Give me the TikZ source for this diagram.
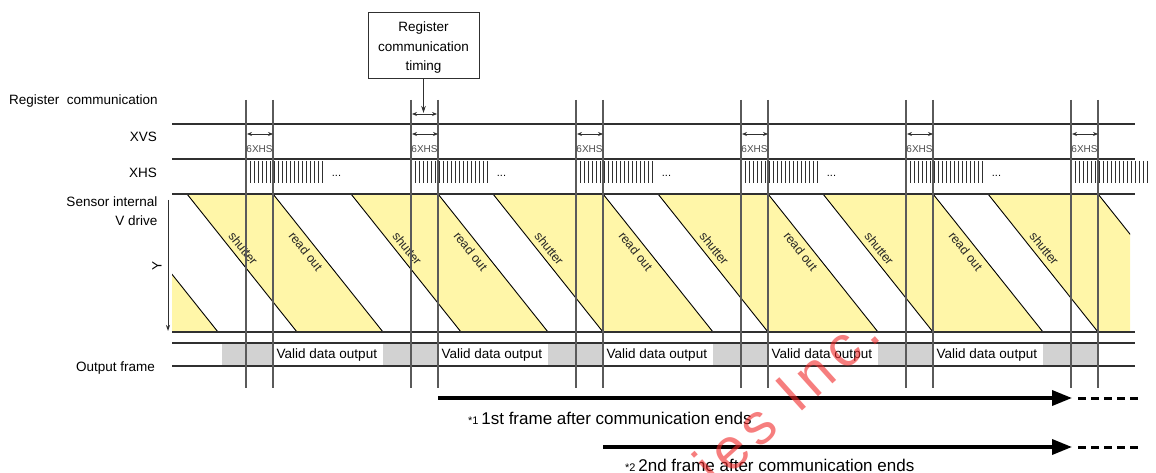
\documentclass[tikz,border=0pt]{standalone}
\usepackage{fontspec}
\setmainfont{Liberation Sans}
\usetikzlibrary{arrows.meta}
\definecolor{vy}{HTML}{FFF6A8}
\definecolor{og}{HTML}{D2D2D2}
\definecolor{ln}{HTML}{303030}
\definecolor{vl}{HTML}{5A5A5A}
\definecolor{wm}{HTML}{F02828}
\begin{document}
\begin{tikzpicture}[x=1pt,y=-1pt,
  lab/.style={font=\fontsize{13.5}{19}\selectfont, inner sep=0pt},
  hline/.style={draw=ln, line width=1.1pt},
  vline/.style={draw=vl, line width=1.2pt},
  diag/.style={draw=black, line width=0.9pt},
  tickline/.style={draw=ln, line width=0.7pt},
  diaglab/.style={font=\fontsize{12.5}{14}\selectfont, sloped, inner sep=5pt, text=black!85},
  small/.style={font=\fontsize{10}{12}\selectfont, text=black!70, inner sep=0pt},
  dimarr/.style={{Stealth[length=5pt,width=4pt]}-{Stealth[length=5pt,width=4pt]}, draw=ln, line width=0.8pt},
  bigarrow/.style={line width=3.5pt, -{Triangle[length=20pt,width=15pt]}},
  bigdash/.style={line width=3pt, dash pattern=on 8pt off 5pt},
  grayfill/.style={fill=og, draw=none},
]
\useasboundingbox (0,0) rectangle (1156,473);

% yellow bands
\begin{scope}
\clip (172,194) rectangle (1130,332);
\foreach \s/\r in {22/108,187/273,351/438,493/603,658/768,823/933,988/1098}{
  \fill[vy] (\s,194) -- (\r,194) -- (\r+110,332) -- (\s+110,332) -- cycle;
}
\foreach \r in {108,1098}{
  \draw[diag] (\r,194) -- (\r+110,332);
}
\foreach \r in {273,438,603,768,933}{
  \draw[diag] (\r,194) -- node[diaglab, pos=0.37, below] {read out} (\r+110,332);
}
\foreach \s in {187,351,493,658,823,988}{
  \draw[diag] (\s,194) -- node[diaglab, pos=0.44, above] {shutter} (\s+110,332);
}
\end{scope}

% output frame
\foreach \a/\b in {222/273,383/438,548/603,713/768,878/933,1043/1098}{
  \fill[grayfill] (\a,343) rectangle (\b,366);
}
\foreach \x [count=\i] in {273,438,603,768,933}{
  \node[lab, anchor=west] (valid\i) at (\x+3.5,355) {Valid data output};
}

% horizontal lines
\foreach \y in {124,159,194,332,343,366}{
  \draw[hline] (172,\y) -- (1135,\y);
}

% XHS ticks
\foreach \g [count=\i] in {246,411,576,741,906,1071}{
  \foreach \k in {0,...,19}{
    \draw[tickline] (\g+4*\k,161) -- (\g+4*\k,183);
  }
  \node[font=\fontsize{11}{12}\selectfont, inner sep=0pt] (dots\i) at (\g+90.5,175.5) {...};
}

% vertical lines, 6XHS
\foreach \x [count=\i] in {246,411,576,741,906,1071}{
  \draw[vline] (\x,100) -- (\x,388);
  \draw[vline] (\x+27,100) -- (\x+27,388);
  \coordinate (xa\i) at (\x+1,134);
  \coordinate (xb\i) at (\x+27,134);
  \draw[dimarr] (xa\i) -- (xb\i);
  \node[small] (six\i) at (\x+13.5,149.5) {6XHS};
}

% register communication timing
\node[draw=ln, line width=0.9pt, minimum width=111pt, minimum height=66pt, inner sep=0pt] (box) at (423.5,45) {};
\node[align=center, font=\fontsize{13.5}{19.5}\selectfont, inner sep=0pt] (boxtext) at (423.5,48) {Register\\communication\\timing};
\coordinate (ra) at (412,114);
\coordinate (rb) at (437,114);
\draw[dimarr] (ra) -- (rb);
\coordinate (rt) at (423.5,113);
\draw[draw=ln, line width=0.8pt, -{Stealth[length=7pt,width=4.5pt]}] (box.south) -- (rt);

% left labels
\node[lab, anchor=west] (lreg) at (9,101) {Register\ \ communication};
\node[lab, anchor=east] (lxvs) at (157,137) {XVS};
\node[lab, anchor=east] (lxhs) at (157,173) {XHS};
\node[lab, anchor=north east, align=right] (lsen) at (157.5,197) {Sensor internal\\V drive};
\node[lab, anchor=east] (lout) at (155,368) {Output frame};
\coordinate (ya) at (168,200);
\coordinate (yb) at (168,331);
\draw[draw=ln, line width=0.8pt, -{Stealth[length=6pt,width=4pt]}] (ya) -- (yb);
\node[lab, rotate=90] (ylab) at (157,266) {Y};

% frame arrows
\coordinate (a1s) at (438,398);
\coordinate (a1e) at (1072,398);
\coordinate (d1s) at (1078,398);
\coordinate (d1e) at (1142,398);
\draw[bigarrow] (a1s) -- (a1e);
\draw[bigdash] (d1s) -- (d1e);
\coordinate (a2s) at (603,447);
\coordinate (a2e) at (1072,447);
\coordinate (d2s) at (1078,447);
\coordinate (d2e) at (1142,447);
\draw[bigarrow] (a2s) -- (a2e);
\draw[bigdash] (d2s) -- (d2e);
\node[anchor=base west, inner sep=0pt] (t1) at (468,424) {{\fontsize{11}{13}\selectfont *1}\ {\fontsize{17}{20}\selectfont 1st frame after communication ends}};
\node[anchor=base west, inner sep=0pt] (t2) at (625,471) {{\fontsize{11}{13}\selectfont *2}\ {\fontsize{17}{20}\selectfont 2nd frame after communication ends}};

% watermark (on top, translucent)
\node[text=wm, text opacity=0.6, font=\fontsize{58}{62}\selectfont\addfontfeature{LetterSpace=12}, rotate=42, anchor=center, inner sep=0pt] (wmark) at (786,398) {ies Inc.};
\end{tikzpicture}
\end{document}
